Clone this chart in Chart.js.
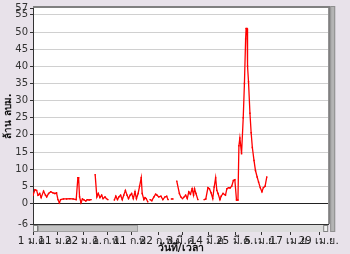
<!DOCTYPE html>
<html>
<head>
<meta charset="utf-8">
<script src="https://cdn.jsdelivr.net/npm/chart.js@4"></script>
<style>
html,body{margin:0;padding:0;background:#e8e2ea;}
#wrap{width:350px;height:254px;position:relative;}
</style>
</head>
<body>
<div id="wrap"><canvas id="c" width="350" height="254"></canvas></div>
<script>
// day index from 1 Jan (leap year), null value = gap
const days = [0,0.8,1.5,2.1,2.8,3.4,4.4,5.2,5.7,6.5,7.4,8.3,9.1,9.8,10.4,11.0,11.5,12.7,14.0,15.3,16.7,18.0,18.7,19.0,19.4,20.0,20.6,21.3,22.0,22.6,23.4,24.2,
  25.0,
  25.9,26.6,27.2,27.9,28.6,29.2,30.0,30.6,31.2,
  32.5,
  33.9,34.5,35.2,35.8,36.5,37.2,37.8,38.5,39.2,39.8,40.5,41.1,41.8,42.5,43.1,43.8,44.4,45.1,45.5,46.2,46.7,47.2,47.8,
  48.3,
  48.8,49.5,50.4,51.1,51.7,52.4,53.3,54.1,55.0,55.7,56.3,
  57.0,
  57.7,58.3,
  59.1,
  59.9,61.0,61.6,62.3,63.0,63.6,64.3,64.9,65.6,66.3,66.9,67.3,67.9,68.7,
  70.0,
  71.3,72.0,72.9,73.5,74.2,74.9,75.5,76.1,76.6,77.1,77.9,78.4,79.2,80.2,80.8,81.5,82.1,82.8,83.5,84.1,84.8,85.4,85.8,86.2,86.9,87.6,88.1,88.6,88.8,89.2,89.4,89.8,90.4,90.9,91.4,92.1,92.7,93.4,94.0,94.7,95.4,96.0,96.7,97.4];
const values = [2.4,4.0,3.8,2.4,2.9,1.7,3.6,2.4,1.9,2.9,3.4,3.1,2.9,3.1,1.1,0.2,1.1,1.3,1.3,1.4,1.3,1.1,7.5,7.5,1.9,0.2,1.3,1.0,0.7,1.1,1.0,1.1,
  null,
  8.4,1.9,2.9,1.7,2.4,1.4,1.9,1.4,1.1,
  null,
  1.0,2.1,1.1,1.9,2.4,1.1,2.4,3.8,2.4,1.4,2.4,2.9,1.4,3.4,1.4,2.9,5.0,7.5,2.9,1.1,1.7,1.4,0.5,
  null,
  1.1,0.8,1.9,2.7,2.4,1.9,2.1,1.1,1.9,2.1,1.1,
  null,
  1.3,1.3,
  null,
  6.5,2.9,1.9,1.4,1.9,2.4,1.4,3.4,2.7,4.3,2.4,4.3,2.9,1.1,
  null,
  1.1,1.3,4.6,4.3,3.1,1.4,4.8,7.5,3.8,2.9,1.1,2.1,2.9,2.4,4.3,4.6,4.5,5.0,6.7,6.9,1.0,1.0,16.8,19.1,14.5,25,35,48,51,51,40,35.5,26.3,20.6,16.3,12.5,9.6,7.7,6.2,4.6,3.4,4.6,5.0,7.7];
const tickDays = [0,10,21,31,41,52,62,73,84,95,107,119];
const tickLabels = ['1 ม.ค.','11 ม.ค.','22 ม.ค.','1 ก.พ.','11 ก.พ.','22 ก.พ.','3 มี.ค.','14 มี.ค.','25 มี.ค.','5 เม.ย.','17 เม.ย.','29 เม.ย.'];
const yTicks = [-6,0,5,10,15,20,25,30,35,40,45,50,55,57];
const yTitle = 'ล้าน ลบม.';
const xTitle = 'วันที่/เวลา';

const pts = days.map((d,i)=>({x:d,y:values[i]}));
const FONT = "Tahoma, 'DejaVu Sans', sans-serif";

const decor = {
  id:'decor',
  beforeDraw(chart){
    const {ctx, chartArea:a} = chart;
    ctx.save();
    ctx.fillStyle='#ffffff';
    ctx.fillRect(a.left,a.top,a.right-a.left,a.bottom-a.top);
    ctx.restore();
  },
  afterDraw(chart){
    const {ctx, chartArea:a} = chart;
    const xs = chart.scales.x;
    ctx.save();
    ctx.strokeStyle='#808080';ctx.lineWidth=2;
    ctx.beginPath();ctx.moveTo(a.left,a.top-1);ctx.lineTo(a.right+1,a.top-1);ctx.lineTo(a.right+1,a.bottom);ctx.stroke();
    const sy=a.bottom+1, sh=7;
    ctx.fillStyle='#dcdcdc';ctx.fillRect(a.left,sy,a.right-a.left,sh);
    ctx.fillStyle='#c4c4c4';ctx.fillRect(a.left+5,sy,100,sh);
    ctx.strokeStyle='#a0a0a0';ctx.lineWidth=1;ctx.strokeRect(a.left+5.5,sy+0.5,99,sh-1);
    ctx.fillStyle='#f0f0f0';ctx.fillRect(a.left,sy,5,sh);ctx.fillRect(a.right-5,sy,5,sh);
    ctx.strokeStyle='#808080';ctx.strokeRect(a.left+0.5,sy+0.5,4,sh-1);ctx.strokeRect(a.right-4.5,sy+0.5,4,sh-1);
    ctx.fillStyle='#b4b4b4';ctx.fillRect(a.right+2,a.top-2,5,sy+sh-a.top+2);
    ctx.strokeStyle='#909090';ctx.strokeRect(a.right+2.5,a.top-1.5,4,sy+sh-a.top+1);
    ctx.strokeStyle='#333';ctx.beginPath();
    tickDays.forEach(d=>{const px=Math.round(xs.getPixelForValue(d))+0.5;ctx.moveTo(px,sy+sh);ctx.lineTo(px,sy+sh+3);});
    ctx.stroke();
    ctx.restore();
  }
};

new Chart(document.getElementById('c'),{
  type:'line',
  data:{datasets:[{data:pts,borderColor:'#ff0000',backgroundColor:'#ff0000',borderWidth:1.3,pointRadius:1,pointStyle:'rect',pointBorderWidth:0,spanGaps:false,tension:0}]},
  options:{
    responsive:false,animation:false,
    layout:{padding:{top:5,right:7,left:0,bottom:0},autoPadding:false},
    plugins:{legend:{display:false},tooltip:{enabled:false}},
    scales:{
      x:{type:'linear',min:0,max:123,
        afterBuildTicks(s){s.ticks=tickDays.map(v=>({value:v}));},
        afterFit(s){s.height=30;},
        grid:{display:false,drawTicks:false},
        border:{display:true,color:'#333',width:1},
        ticks:{autoSkip:false,maxRotation:0,padding:11,color:'#222',font:{family:FONT,size:10.5},
          callback(v){const i=tickDays.indexOf(v);return i>=0?tickLabels[i]:'';}},
        title:{display:true,text:xTitle,color:'#111',font:{family:FONT,size:10.5,weight:'bold'},padding:{top:0,bottom:-1}}
      },
      y:{min:-6,max:57,
        afterBuildTicks(s){s.ticks=yTicks.map(v=>({value:v}));},
        afterFit(s){s.width=33;},
        grid:{color(c){const v=c.tick&&c.tick.value;return v===0?'#222':(v===57||v===-6?'rgba(0,0,0,0)':'#d0d0d0');},tickLength:3,tickColor:'#333'},
        border:{display:true,color:'#333',width:1},
        ticks:{autoSkip:false,padding:2,color:'#333',font:{family:FONT,size:10}},
        title:{display:true,text:yTitle,color:'#111',font:{family:FONT,size:10,weight:'bold'},padding:{top:2,bottom:0}}
      }
    }
  },
  plugins:[decor]
});
</script>
</body>
</html>
